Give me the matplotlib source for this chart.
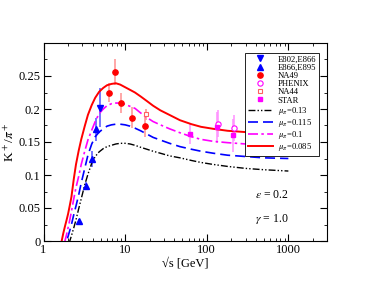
import matplotlib
matplotlib.use("Agg")
import matplotlib.pyplot as plt
from matplotlib.ticker import LogLocator, NullFormatter, MultipleLocator, FixedFormatter, FixedLocator

plt.rcParams['font.family'] = ['Liberation Serif', 'DejaVu Serif']
plt.rcParams['mathtext.fontset'] = 'stix'

# --- data points ---
e802_x = [4.9]
e802_y = [0.202]
e802_err = [0.03]

e895_x = [2.7, 3.35, 3.9, 4.4]
e895_y = [0.030, 0.083, 0.124, 0.169]
e895_err = [0.004, 0.006, 0.012, 0.018]

na49_x = [6.3, 7.6, 8.8, 12.3, 17.3]
na49_y = [0.225, 0.256, 0.209, 0.187, 0.174]
na49_err = [0.014, 0.019, 0.015, 0.016, 0.017]

na44_x = [18.0]
na44_y = [0.192]
na44_err = [0.008]

phenix_x = [138, 217]
phenix_y = [0.178, 0.171]
phenix_err = [0.02, 0.02]

star_x = [63, 135, 208]
star_y = [0.162, 0.172, 0.160]
star_err = [0.015, 0.023, 0.025]

# --- model curves ---
curve_x = [1.6, 1.67, 1.75, 1.83, 1.92, 2.0, 2.1, 2.2, 2.35, 2.5, 2.7, 2.9, 3.2, 3.5, 3.9,
           4.3, 4.8, 5.4, 6, 6.8, 7.7, 8.7, 10, 11.5, 13.2, 15.5, 18.5, 22, 27, 35, 47, 65,
           85, 120, 180, 300, 500, 1000]
mu_085 = [-0.01, 0.0, 0.012, 0.022, 0.032, 0.041, 0.054, 0.067, 0.094, 0.116, 0.137, 0.154,
          0.174, 0.191, 0.206, 0.217, 0.226, 0.232, 0.236, 0.238, 0.239, 0.237, 0.233, 0.229,
          0.225, 0.219, 0.212, 0.205, 0.198, 0.191, 0.183, 0.177, 0.173, 0.170, 0.167, 0.165,
          0.163, 0.161]
mu_100 = [-0.03, -0.02, -0.01, 0.0, 0.010, 0.020, 0.032, 0.045, 0.064, 0.081, 0.098, 0.116,
          0.136, 0.153, 0.168, 0.181, 0.193, 0.200, 0.205, 0.208, 0.209, 0.209, 0.207, 0.204,
          0.201, 0.194, 0.187, 0.181, 0.176, 0.170, 0.164, 0.158, 0.154, 0.151, 0.149, 0.147,
          0.146, 0.145]
mu_115 = [-0.04, -0.03, -0.02, -0.01, 0.0, 0.007, 0.016, 0.025, 0.040, 0.053, 0.070, 0.088,
          0.110, 0.130, 0.147, 0.158, 0.165, 0.170, 0.174, 0.176, 0.177, 0.177, 0.176, 0.174,
          0.171, 0.167, 0.162, 0.157, 0.153, 0.148, 0.143, 0.139, 0.136, 0.133, 0.130, 0.128,
          0.126, 0.125]
mu_130 = [-0.05, -0.04, -0.03, -0.02, -0.01, -0.005, 0.0, 0.008, 0.020, 0.032, 0.049, 0.064,
          0.085, 0.101, 0.118, 0.128, 0.135, 0.140, 0.143, 0.145, 0.147, 0.148, 0.148, 0.147,
          0.145, 0.142, 0.139, 0.136, 0.133, 0.129, 0.126, 0.122, 0.119, 0.116, 0.113, 0.110,
          0.108, 0.106]

fig = plt.figure(figsize=(3.68, 2.84), dpi=100)
ax = fig.add_axes([43.5 / 368, 43 / 284, 283.8 / 368, 198 / 284])

# error bars first, markers on top
eb = dict(fmt='none', elinewidth=1.1, capsize=0)
ax.errorbar(e802_x, e802_y, yerr=e802_err, ecolor='#5050ff', **eb)
ax.errorbar(e895_x, e895_y, yerr=e895_err, ecolor='#5050ff', **eb)
ax.errorbar(na49_x, na49_y, yerr=na49_err, ecolor='#ff9090', **eb)
ax.errorbar(na44_x, na44_y, yerr=na44_err, ecolor='#ff9090', **eb)
ax.errorbar(phenix_x, phenix_y, yerr=phenix_err, ecolor='#ff90ff', **eb)
ax.errorbar(star_x, star_y, yerr=star_err, ecolor='#ff90ff', **eb)

l130, = ax.plot(curve_x, mu_130, color='black', lw=1.0, ls=(0, (5, 1.5, 1, 1.5, 1, 1.5)),
                label=r'$\mu_\pi$=0.13')
l115, = ax.plot(curve_x, mu_115, color='#0000ff', lw=1.2, ls=(0, (6, 3)),
                label=r'$\mu_\pi$=0.115')
l100, = ax.plot(curve_x, mu_100, color='#ff00ff', lw=1.2, ls=(0, (6, 2, 1.5, 2)),
                label=r'$\mu_\pi$=0.1')
l085, = ax.plot(curve_x, mu_085, color='#ff0000', lw=1.4, label=r'$\mu_\pi$=0.085')

ms = 3.8
h1, = ax.plot(e802_x, e802_y, 'v', color='#0000ff', ms=ms, ls='none', label='E802,E866')
h2, = ax.plot(e895_x, e895_y, '^', color='#0000ff', ms=ms, ls='none', label='E866,E895')
h3, = ax.plot(na49_x, na49_y, 'o', color='#ff0000', ms=ms, ls='none', label='NA49')
h4, = ax.plot(phenix_x, phenix_y, 'o', mfc='white', mec='#ff00ff', mew=0.8, ms=ms,
              ls='none', label='PHENIX')
h5, = ax.plot(na44_x, na44_y, 's', mfc='white', mec='#ff6060', mew=0.8, ms=ms - 0.4,
              ls='none', label='NA44')
h6, = ax.plot(star_x, star_y, 's', color='#ff00ff', ms=ms - 0.4, ls='none', label='STAR')

ax.set_xscale('log')
ax.set_xlim(1, 3000)
ax.set_ylim(0, 0.3)
ax.xaxis.set_major_locator(FixedLocator([1, 10, 100, 1000]))
ax.xaxis.set_major_formatter(FixedFormatter(['1', '10', '100', '1000']))
ax.xaxis.set_minor_locator(LogLocator(base=10, subs=range(2, 10)))
ax.xaxis.set_minor_formatter(NullFormatter())
ax.yaxis.set_major_locator(MultipleLocator(0.05))
ax.yaxis.set_minor_locator(MultipleLocator(0.025))
ax.set_yticks([0, 0.05, 0.1, 0.15, 0.2, 0.25])
ax.set_yticklabels(['0', '0.05', '0.1', '0.15', '0.2', '0.25'])
ax.tick_params(which='both', direction='in', top=True, right=True, labelsize=9, pad=2)
ax.tick_params(which='major', length=5, width=0.8)
ax.tick_params(which='minor', length=2.5, width=0.6)
for s in ax.spines.values():
    s.set_linewidth(0.8)

ax.set_xlabel('\u221as [GeV]', fontsize=9, labelpad=1)
ax.set_ylabel(r'K$^+$/$\pi^+$', fontsize=9.5, labelpad=1)

ax.text(0.745, 0.232, r'$\varepsilon$ = 0.2', transform=ax.transAxes, fontsize=8.5,
        ha='left', va='center')
ax.text(0.745, 0.111, r'$\gamma$ = 1.0', transform=ax.transAxes, fontsize=8.5,
        ha='left', va='center')

leg = ax.legend(handles=[h1, h2, h3, h4, h5, h6, l130, l115, l100, l085],
                loc='upper left', bbox_to_anchor=(0.71, 0.95), fontsize=6.2,
                frameon=True, fancybox=False, edgecolor='black', framealpha=1,
                handlelength=2.9, handletextpad=0.6, labelspacing=0.02,
                borderpad=0.3, borderaxespad=0)
leg.get_frame().set_linewidth(0.6)

fig.savefig('out.png', dpi=100)
